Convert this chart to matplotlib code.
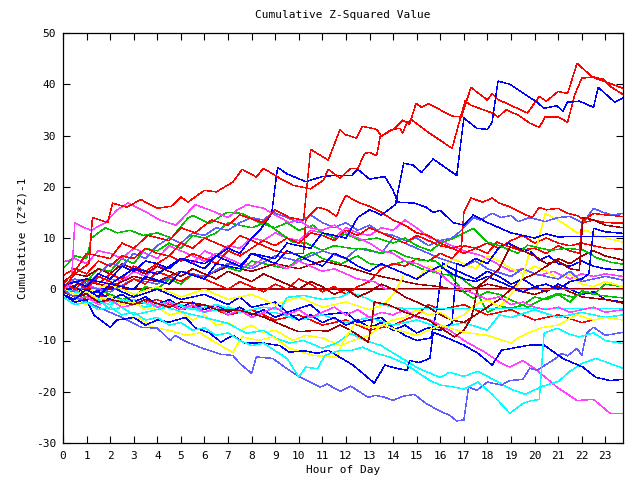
import matplotlib
matplotlib.use("Agg")
import matplotlib.pyplot as plt

# ---------------- text ----------------
title = "Cumulative Z-Squared Value"
x_label = "Hour of Day"
y_label = "Cumulative (Z*Z)-1"
x_ticks = list(range(0, 24))
y_ticks = [-30, -20, -10, 0, 10, 20, 30, 40, 50]

# ---------------- colours (gnuplot-like) ----------------
RED = "#ff0000"
GREEN = "#00c000"
BLUE = "#0000ff"
MAGENTA = "#ff40ff"
CYAN = "#00ffff"
DARKRED = "#a00000"
YELLOW = "#ffff00"
SLATE = "#5f5fff"

# ---------------- series: (hour, value) vertices ----------------
r1 = [(0, 0), (0.5, 3), (1.1, 5), (1.25, 14), (1.9, 13), (2.1, 16.8), (2.7, 16), (3.3, 17.5), (4, 15.8), (4.6, 16.2),
      (5, 18), (5.3, 17), (6, 19.3), (6.5, 19), (7.2, 20.9), (7.6, 23.4), (8.2, 21.9), (8.5, 23.6), (9.25, 21.5),
      (9.75, 20.3), (10.5, 19.6), (11.05, 21.3), (11.25, 23.4), (11.75, 21.7), (12.2, 23.6), (12.5, 23.6), (12.8, 26.5),
      (13, 26.7), (13.3, 26.1), (13.45, 29.7), (13.7, 30.4), (14.1, 31.5), (14.4, 33), (14.7, 32.2), (14.97, 36.3),
      (15.2, 35.5), (15.5, 36.2), (16.5, 33.8), (16.9, 33.6), (17.3, 39.4), (18, 36.9), (18.2, 38.2), (18.45, 37),
      (18.7, 36.5), (19.7, 34.4), (20.2, 37.6), (20.5, 36.7), (21, 38.6), (21.4, 38.2), (21.8, 44.1), (22.4, 41.6),
      (22.65, 41), (23.3, 40), (23.75, 39.2)]
r2 = [(0, 1), (0.5, 3.5), (1, 7), (2, 6), (2.5, 9), (3, 8), (3.6, 10.5), (4.5, 9.5), (5, 12), (5.6, 11), (6.3, 13.5),
      (7, 12.5), (7.5, 14.5), (8.5, 13), (9, 15.5), (9.6, 14), (10.2, 13.5), (10.5, 27.3), (11.25, 25.2), (11.75, 31.2),
      (11.95, 30.2), (12.45, 29.5), (12.7, 31.8), (13.3, 31.2), (13.5, 29.9), (13.95, 31.2), (14.3, 31.4), (14.4, 30.5),
      (14.6, 32.6), (14.8, 33), (15.2, 31.6), (15.56, 30.4), (16.5, 27.5), (17.05, 36.7), (17.3, 35.9), (18.2, 34.4),
      (18.45, 33.6), (18.8, 35), (19.3, 34), (19.8, 32.4), (20.2, 31.6), (20.45, 33.6), (21, 33.6), (21.4, 32.6),
      (21.7, 37.9), (22, 41.2), (22.5, 41.4), (22.9, 41), (23.2, 39.6), (23.75, 38)]
r3 = [(0, 2.7), (0.5, 4), (1, 3), (1.5, 5.5), (2, 4.5), (2.5, 6.5), (3, 6), (3.5, 8), (4, 7), (4.5, 6.5), (5, 9),
      (5.5, 8), (6, 10), (6.5, 9), (7, 8), (7.5, 10.5), (8, 9.5), (8.5, 8.5), (9, 7.5), (9.5, 7), (10.2, 7), (10.3, 13.6),
      (10.8, 16), (11.2, 15.5), (11.6, 14.2), (11.75, 16), (12, 18.3), (12.5, 17), (13.1, 16), (13.5, 15), (14, 13.5),
      (14.5, 12.5), (15, 11), (15.5, 10.5), (16, 9), (16.5, 8), (16.9, 8.5), (17, 15), (17.3, 17.8), (17.8, 17),
      (18.2, 17.8), (18.5, 16.8), (19, 16), (19.5, 14.8), (19.9, 14), (20.2, 16), (20.5, 15.5), (21, 15.8),
      (21.4, 14.8), (21.8, 14.4), (22.1, 13.5), (22.5, 14.8), (23, 14.5), (23.75, 14.2)]
r4 = [(0, 1), (0.5, 0), (1, 2), (1.5, 1), (2, 3), (2.5, 2), (3, 4.5), (3.5, 3.5), (4, 5), (4.5, 6.5), (5, 5.5),
      (5.5, 7), (6, 6), (6.5, 5), (7, 7.5), (7.5, 6.5), (8, 8), (8.5, 9.5), (9, 8.5), (9.5, 10), (10, 9), (10.5, 11),
      (11, 10.5), (11.5, 9.5), (12, 11.5), (12.5, 10.5), (13, 12), (13.5, 11), (14, 10), (14.5, 9), (15, 10.5),
      (15.5, 9.5), (16, 8.5), (16.5, 8), (17, 7), (17.5, 8), (18, 7), (18.4, 9.2), (18.8, 8.5), (19.4, 7.6), (20, 8),
      (20.5, 7), (21, 8.5), (21.5, 7.5), (21.9, 7), (22, 12.9), (22.5, 13.5), (23, 13), (23.75, 12.9)]
r5 = [(0, 0.5), (0.5, 1.5), (1, 0), (1.5, 2.5), (2, 1.5), (2.5, 0.5), (3, 2), (3.5, 1), (4, 3.5), (4.5, 2.5), (5, 1.5),
      (5.5, 3), (6, 2), (6.5, 1), (7, 0), (7.5, 1.5), (8, 0.5), (8.5, -0.5), (9, 1), (9.5, 0), (10, 2), (10.5, 1),
      (11, -0.5), (11.5, 0.5), (12, -1), (12.5, 0.5), (13, 1.5), (13.5, 4), (14, 5), (14.5, 4.5), (15, 6), (15.5, 5.5),
      (16, 7), (16.5, 6), (17, 8.5), (17.5, 8), (18, 9), (18.5, 8), (19, 9.5), (19.5, 10.5), (20, 9), (20.5, 10),
      (21, 9), (21.5, 8.5), (22, 9), (22.5, 8.5), (23, 8), (23.75, 7.8)]
r6 = [(0, 0), (1, -2), (2, -1), (3, -3), (4, -2), (5, -4), (6, -3), (7, -5), (8, -4), (9, -6), (10, -5), (11, -7),
      (12, -6), (13, -8), (14, -7), (15, -5), (15.5, -3), (16, -4), (17, -3), (18, -5), (19, -4), (20, -6), (21, -5),
      (22, -6.5), (23, -5.5), (23.75, -6)]

g1 = [(0, 4), (0.3, 5.5), (0.5, 6.5), (1, 6), (1.2, 10), (1.8, 12), (2.3, 11), (2.85, 11.5), (3.4, 10.5), (4, 11),
      (4.6, 10), (5.3, 13.9), (5.5, 14.4), (6.2, 12.8), (6.95, 15), (7.6, 14.8), (8.35, 12.9), (9, 12), (9.5, 13),
      (10, 11.5), (10.6, 12.5), (11, 11), (11.5, 10), (12, 10.8), (12.6, 9.5), (13.3, 10), (14, 9), (14.5, 10),
      (15, 8.5), (15.6, 7.5), (16, 9), (16.6, 10), (17.4, 11.9), (18, 9.2), (18.5, 8.5), (19.3, 7), (19.7, 8.6),
      (20.65, 7.6), (21.4, 8), (22.1, 7.6), (22.6, 6.2), (23.2, 5.3), (23.75, 4.9)]
g2 = [(0, 0.5), (0.5, 2), (1, 1.5), (1.5, 4), (2, 3.5), (2.5, 6), (3, 5), (3.5, 8), (4, 7.5), (4.5, 9), (5, 8),
      (5.5, 10.5), (6, 10), (6.5, 11), (7, 13), (7.5, 12.5), (8, 12), (8.6, 13), (9.2, 11), (9.75, 9.2), (10.3, 9),
      (11, 7.6), (11.5, 8.5), (12.2, 8), (12.9, 7.8), (13.5, 7), (14, 7.6), (14.5, 6.5), (15.1, 5.7), (15.8, 5.5),
      (16.3, 3.5), (17, -0.6), (17.4, -1.8), (18, -0.5), (18.5, -1), (19.2, -2.5), (19.7, -3.5), (20.3, -2),
      (21, -0.8), (21.6, -1.5), (22.2, -0.5), (22.8, -1.2), (23.75, -1.7)]
g3 = [(0, 1), (0.5, -0.5), (1, -1.5), (1.5, 0), (2, -1), (2.5, -2), (3, -1.5), (3.5, 0.5), (4, 0), (4.5, 2), (5, 1),
      (5.5, 3), (6, 2.5), (6.8, 4.5), (7.5, 3.5), (8, 5.5), (8.5, 5), (9.5, 4), (10, 6), (10.6, 7.2), (11, 6),
      (11.8, 5), (12.5, 6.5), (13, 5), (13.8, 4.5), (14.5, 5.5), (15.2, 4), (16, 3), (16.8, 2.5), (17.5, 0),
      (18, -4.5), (18.5, -3.3), (19, -3.7), (19.5, -3.1), (20, -1.5), (20.5, -2), (21, -1), (21.5, -2.5), (22, -0.3),
      (22.5, -1), (23, 1), (23.75, 0.5)]

bA = [(0, -1), (0.5, -2), (1, 0), (1.5, -1.5), (2, 1), (3, 0), (3.5, 2.5), (4.5, 1), (5, 3.5), (6, 2), (6.5, 5),
      (7.5, 4), (8, 7), (9, 6), (9.5, 9), (10.5, 8), (11, 11), (12, 10), (12.5, 14), (13, 15.5), (13.5, 14.5),
      (14.1, 16.5), (14.45, 24.6), (14.85, 24.2), (15.2, 22.8), (15.7, 25.4), (16.7, 22.2), (17, 33.4), (17.55, 31.4),
      (18, 31.2), (18.2, 32.6), (18.45, 40.6), (18.95, 40), (20.1, 36.5), (20.4, 35.3), (20.95, 35.8), (21.2, 34.7),
      (21.4, 36.5), (21.9, 36.7), (22.5, 35.5), (22.7, 39.4), (23.4, 36.5), (23.75, 37.3)]
bB = [(0, 0.8), (1, 2), (2, 1), (3, 4), (4, 3), (5, 6), (6, 5), (7, 8), (7.5, 7), (8, 10), (8.35, 11.5), (8.85, 14.8),
      (9.1, 23.8), (9.5, 22.5), (10.3, 21), (11, 22), (11.5, 22.2), (12.25, 22.2), (12.5, 23.4), (13, 21.5),
      (13.65, 22), (14, 19.3), (14.2, 17), (14.9, 16.8), (15.4, 16), (15.7, 15), (16, 15.4), (16.55, 13), (17, 12.5),
      (17.4, 14.5), (18, 13), (18.5, 12), (19, 11), (19.5, 10.5), (20, 10), (20.5, 10.8), (21, 10.2), (21.6, 10.3),
      (23.75, 10.3)]
bC = [(0, -1), (0.5, -2.5), (1, -2), (1.3, -5), (2, -7.4), (2.3, -6), (3, -5.5), (3.5, -7), (4, -6), (4.5, -6.4),
      (5.2, -5.5), (5.6, -7.5), (6.2, -8.5), (6.7, -10.3), (7.2, -9), (7.7, -10.5), (8.5, -10.5), (9.2, -11),
      (9.6, -12.3), (10.2, -12), (10.8, -12.5), (11.25, -11.9), (11.75, -13.3), (12.3, -14.8), (13.2, -18.3),
      (13.65, -14.8), (14.2, -15.5), (14.6, -15.8), (14.7, -13.9), (15.1, -14.3), (15.56, -13.5), (15.7, -8.4),
      (16.3, -9.5), (17, -10.9), (17.6, -12.5), (18.2, -14.8), (18.6, -11.9), (19.3, -11.3), (19.8, -10.9),
      (20.4, -10.9), (21.2, -13.5), (22.05, -15.2), (22.6, -17.2), (23.2, -17.8), (23.75, -17.6)]
bD = [(0, 0), (0.5, 1.5), (1, 0.5), (1.5, 3), (2, 2), (2.5, 4.5), (3, 3.5), (3.5, 5.5), (4, 5), (4.5, 4), (5, 6),
      (5.5, 5), (6, 4), (6.5, 6.5), (7, 5.5), (7.5, 4.5), (8, 7), (8.5, 6), (9, 5), (9.5, 7.5), (10, 6.5), (10.5, 5.5),
      (11, 4.5), (11.5, 7), (12, 6), (12.5, 4.5), (13, 3.5), (13.5, 5), (14, 4), (14.5, 3), (15, 2), (15.5, 3.5),
      (16, 4.5), (16.5, 3), (17, 2), (17.5, 1.5), (18, 2.5), (18.5, 1.5), (19, 0.5), (19.5, -0.5), (20, 0.5),
      (20.5, 1), (21, 0), (21.5, 1.5), (22, 2), (22.3, 3), (22.5, 11.9), (23, 11.2), (23.3, 11.1), (23.75, 10.9)]
bE = [(0, -0.5), (0.5, 0.5), (1, -1), (1.5, -0.5), (2, -2), (2.5, -1), (3, -2.5), (3.5, -1.5), (4, -3), (4.5, -2),
      (5, -3.5), (5.5, -2.5), (6, -4), (6.5, -3), (7, -4.5), (7.5, -3.5), (8, -5), (8.5, -4), (9, -5.5), (9.5, -4.5),
      (10, -6), (10.5, -5), (11, -6.5), (11.5, -5.5), (12, -7), (12.5, -6), (13, -7.5), (13.5, -6.5), (14, -8),
      (14.5, -7), (15, -8.5), (15.5, -7.5), (16, -8), (16.5, -6.6), (16.7, 5), (17, 4.5), (17.5, 6), (18, 5),
      (18.5, 8.2), (18.9, 9), (19.3, 8), (19.8, 7.5), (20.2, 5.7), (20.6, 6.5), (21, 5), (21.5, 4.5), (22, 5.5),
      (22.5, 4.5), (23, 4), (23.75, 3.7)]
bF = [(0, 0.5), (1, -1), (2, 0.5), (3, -1.5), (4, 0), (5, -2), (6, -1), (7, -3), (7.5, -1.5), (8, -3.5), (9, -2.5),
      (9.5, -4.5), (10.5, -3), (11, -5), (12, -4.5), (12.5, -6.5), (13.5, -5.5), (14, -7.5), (14.5, -9), (15, -10),
      (15.6, -9.5), (15.85, -4.1), (16.1, 5.1), (16.5, 4), (17, 3), (17.5, 2), (18, 3.5), (18.5, 2.5), (19, 1),
      (19.5, 2), (20, 0.5), (20.5, -0.5), (21, 1), (21.5, 0), (22, -1), (22.5, -0.5), (23, -2), (23.75, -2.5)]

m1 = [(0, 0), (0.35, 1), (0.5, 13), (0.9, 12), (1.2, 11.5), (1.8, 13), (2.3, 15.5), (2.75, 16.8), (3.55, 15),
      (4.1, 13.5), (4.8, 12.5), (5.3, 15), (5.6, 16.5), (6.2, 15.5), (7, 14), (7.4, 15.5), (7.8, 16.5), (8.5, 15.8),
      (9, 14.5), (9.6, 13), (10, 13.5), (10.5, 12), (11, 11.5), (11.5, 12.5), (12, 11), (12.5, 10), (13, 9),
      (13.5, 7.5), (14, 7), (14.5, 5.5), (15, 5), (15.5, 4), (16, 3), (16.5, 1), (17, 0), (17.5, -1), (18, -2),
      (18.5, -1.5), (19, -3), (19.5, -2.5), (20, -3.5), (20.5, -4), (21, -3.5), (21.5, -4.5), (22, -4), (22.5, -3.5),
      (23, -4.5), (23.75, -4)]
m2 = [(0, -1), (0.5, -2), (1, -1.5), (1.5, -3), (2, -2), (2.5, -3.5), (3, -3), (3.5, -2), (4, -3.5), (4.5, -2.5),
      (5, -4), (5.5, -3), (6, -4.5), (6.5, -3.5), (7, -5), (7.5, -4), (8, -5.5), (8.5, -4.5), (9, -3.5), (9.5, -5),
      (10, -4), (10.5, -5.5), (11, -4.5), (11.5, -3.5), (12, -5), (12.5, -4), (13, -5.5), (13.5, -4.5), (14, -5),
      (14.5, -4), (15, -5.5), (15.56, -6), (16.4, -8), (17, -10), (17.9, -12.3), (18.5, -14.2), (18.95, -15.2),
      (19.5, -13.9), (20.1, -15.8), (20.95, -19.1), (21.8, -21.7), (22.5, -21.5), (23.2, -24.2), (23.75, -24.2)]
m3 = [(0, 5.3), (0.5, 6), (1, 5), (1.5, 7.5), (2, 7), (2.5, 6), (3, 8), (3.5, 7), (4, 6), (4.5, 8.5), (5, 7.5),
      (5.5, 6.5), (6, 5.5), (6.5, 7), (7, 6), (7.5, 5), (8, 4.5), (8.5, 6), (9, 5), (9.5, 4), (10, 5.5), (10.5, 4.5),
      (11, 3.5), (11.5, 4), (12, 3), (12.5, 2), (13.2, 1.5), (13.7, 0), (23.75, 0)]
m4 = [(0, 0), (0.5, -1), (1, 1), (1.5, 0), (2, 2), (2.5, 1.5), (3, 3.5), (3.5, 2.5), (4, 4.5), (4.5, 4), (5, 6),
      (5.5, 5), (6, 7.5), (6.5, 6.5), (7, 8.5), (7.5, 8), (8, 10), (8.5, 9.5), (9, 11), (9.5, 10), (10, 9.5),
      (10.5, 11.5), (11, 11), (11.5, 10), (12, 12), (12.5, 11), (13, 10.5), (13.5, 12), (14, 11.5), (14.5, 13.5),
      (15, 12), (15.56, 10), (16, 9.5), (16.5, 8.5), (17, 7.5), (17.7, 6.6), (18.2, 5.5), (19, 3.5), (19.5, 4),
      (20.2, 2.7), (20.8, 3.5), (21.5, 2), (22, 3), (22.5, 2.5), (23, 3), (23.75, 2.5)]

cA = [(0, -1.5), (0.5, -3), (1, -2.5), (1.5, -4), (2, -3.5), (2.5, -5), (3, -4.5), (3.5, -6), (4, -5.5), (4.5, -7),
      (5, -6.5), (5.5, -8), (6, -7.5), (6.5, -9), (7, -8.5), (7.5, -10), (8, -11), (8.5, -10.5), (9, -12),
      (9.5, -13.5), (10, -17.1), (10.3, -15.2), (10.8, -15.5), (11.1, -12.9), (11.75, -11.9), (12.2, -12),
      (12.7, -11.3), (13.3, -12.5), (13.9, -13.3), (14.5, -14.5), (15.1, -16.4), (15.56, -17.8), (16, -18.7),
      (16.5, -19), (17, -19.5), (17.6, -18.1), (18.2, -20.5), (18.95, -24.2), (19.5, -22.3), (19.8, -21.8),
      (20.2, -21.5), (20.4, -8.6), (20.95, -7.6), (21.5, -8.8), (21.9, -9.3), (22.5, -8.5), (23, -10), (23.75, -10.6)]
cB = [(0, -0.5), (0.5, -1.5), (1, -3), (1.5, -2), (2, -4), (2.5, -3.5), (3, -5), (3.5, -4.5), (4.4, -3.5),
      (5.25, -4.7), (6, -5.5), (6.95, -6.6), (7.8, -8.6), (8.5, -8), (9, -9.5), (9.6, -10.5), (10.2, -10), (11, -11.5),
      (11.6, -10.5), (12.2, -8.6), (12.8, -10), (13.5, -11), (14.2, -13), (15.1, -15.5), (16, -17.2), (16.4, -16.2),
      (17, -17), (17.6, -16), (18.2, -17.5), (19, -19.5), (19.6, -20.5), (20.3, -19), (21, -18), (21.5, -16),
      (22, -14.5), (22.6, -13.5), (23.2, -14.5), (23.75, -15.4)]
cC = [(0, 0), (1, -1), (2, -2.5), (3, -2), (4, -3.5), (5, -3), (6, -4.5), (7, -3.5), (8, -5), (9, -4.5), (10, -6),
      (11, -5), (12, -6.5), (13, -5.5), (14, -7), (15, -6), (16, -7.5), (17, -6.5), (18, -8), (18.5, -5), (19, -5.5),
      (20, -4), (21, -5.5), (22, -4.5), (23, -5.5), (23.75, -5)]
cD = [(0, -1), (0.5, -2), (1, -1.5), (2, -3), (2.5, -2), (3.5, -3.5), (4.5, -2.5), (5.5, -4), (6.5, -3), (7.5, -4.5),
      (8.5, -3.5), (9.2, -4), (9.5, -1.6), (10.2, -1.2), (11, -2), (11.8, -1.5), (12.2, -0.6), (12.9, -1.8),
      (13.3, -2.7), (14, -3.5), (14.4, -3.7), (23.75, -3.7)]

d1 = [(0, 0), (23.75, 0)]
d2 = [(0, -0.5), (0.5, -1.5), (1, -1), (1.5, -2.5), (2, -2), (3, -3), (3.5, -2), (4.5, -3.5), (5, -2.5), (6, -3),
      (6.5, -4), (7.5, -4.1), (8.5, -5.4), (9.3, -7), (10, -8.3), (10.8, -8), (11.2, -8.2), (11.75, -7), (12.3, -8.3),
      (12.95, -10.3), (13.1, -6.4), (13.2, -2.5), (13.8, -3), (14.5, -4.5), (15.5, -6), (16.6, -9.3), (17, -8),
      (17.3, -5.7), (17.4, -4.1), (17.6, 0.5), (18, 2), (18.5, 4), (19, 8.6), (19.5, 7.5), (20, 6.5), (20.5, 5),
      (21, 5.5), (21.5, 4), (21.9, 3.7), (22.05, 14), (22.5, 13.5), (23, 12.5), (23.75, 12)]
d3 = [(0, 1.5), (0.5, 3), (1, 2.5), (1.5, 4), (2, 3), (2.5, 5), (3, 4), (3.5, 3), (4, 4.5), (4.5, 3.5), (5, 2.5),
      (5.5, 4), (6, 3), (6.5, 2), (7, 3.5), (7.5, 2.5), (8, 1.5), (8.5, 3), (9, 2), (9.5, 1), (10, 0), (10.5, 1.5),
      (11, 0.5), (11.5, -1), (12, 0), (12.5, -1.5), (13, -0.5), (13.5, 1), (14, 0), (14.5, -1.5), (15, -2.5),
      (15.5, -3.5), (16, -5), (16.5, -6), (17, -6.5), (17.5, -5), (18, -3.5), (18.5, -2), (19, 0), (19.5, 2),
      (20, 3), (20.5, 4.5), (21, 6), (21.5, 5), (22, 6.5), (22.5, 7.5), (23, 6.5), (23.75, 5.7)]
d4 = [(0, 0), (1, 1.5), (2, 0.5), (3, 2.5), (4, 1.5), (5, 3.5), (6, 2.5), (7, 4.5), (8, 3.5), (9, 5), (10, 4),
      (11, 5.5), (12, 4.5), (13, 3), (14, 2), (15, 1), (16, 0.5), (17, -0.5), (18, 1), (19, 0), (20, -1), (21, 0.5),
      (22, -1.5), (23, -2), (23.75, -2.7)]

y1 = [(0, -1), (0.5, -2), (1, -3), (1.5, -3.5), (2, -4.5), (2.7, -6), (3.2, -5.5), (3.8, -7.5), (4.5, -8),
      (5.25, -9), (5.8, -8.5), (6.5, -10.5), (7.2, -12.3), (7.6, -9.3), (8.3, -10), (8.9, -9.3), (9.6, -11.5),
      (10.6, -12.9), (11.6, -13.3), (11.8, -11), (12, -9.3), (12.4, -6.6), (13, -7.5), (13.6, -7), (14.2, -8),
      (15, -9), (15.5, -8), (16, -7), (17, -8.4), (18, -9), (19, -10.5), (19.3, -9.5), (19.8, -8.4), (20.3, -7.5),
      (21, -7), (21.5, -5.7), (21.8, -5), (22.5, -6), (23, -5.5), (23.75, -6)]
y2 = [(0, 0), (0.5, -1), (1, -0.5), (1.5, -2), (2, -1.5), (2.5, -3), (3, -2.5), (3.5, -4), (4, -3.5), (4.5, -5),
      (5, -4.5), (5.5, -6), (6, -5), (6.5, -7), (7, -6.5), (7.5, -8), (8, -7), (8.5, -8.5), (9, -8), (9.75, -10),
      (10.3, -9), (11, -9.5), (11.75, -11), (12.3, -10), (13, -9), (13.5, -7), (14, -6), (14.5, -5.5), (15, -4),
      (15.5, -5), (16, -4.5), (16.5, -6), (17, -5), (17.5, -3), (18, -2), (18.5, -3.5), (19, -1), (19.5, 2.3),
      (19.8, 7.6), (20.1, 8.5), (20.45, 14.8), (21, 13.5), (21.5, 12), (21.8, 11), (22.2, 11.5), (22.6, 10.5),
      (23.2, 9.8), (23.75, 9.2)]
y3 = [(0, 0.5), (1, -0.5), (2, 1), (3, -1), (4, 0.5), (5, -1.5), (6, 0), (7, -2), (8, -1), (9, -3), (10, -1.5),
      (11, -3.5), (12, -2.5), (13, -4), (13.6, -3), (14, -1), (14.5, 3), (15, 2), (15.5, 4.5), (16, 3.5), (16.5, 6),
      (17, 5), (17.5, 4), (18, 6.5), (18.5, 5.5), (19, 4), (19.5, 3), (20, 4.5), (20.5, 3.5), (21, 2), (21.5, 3),
      (22, 1), (22.5, 0.5), (23, 1.5), (23.75, 0.5)]

s1 = [(0, 0), (0.3, -1), (1, -2.5), (1.5, -3.5), (2, -4.5), (2.5, -5.5), (3.3, -7.4), (4, -7.6), (4.55, -10),
      (4.75, -9), (5.25, -10.3), (5.9, -11.5), (6.7, -12.7), (7.2, -12.9), (7.5, -14.5), (8, -16.4), (8.2, -13.2),
      (8.9, -13.5), (9.4, -15.2), (10, -17), (10.9, -19.1), (11.2, -18.5), (11.75, -19.9), (12.2, -18.9),
      (12.95, -21.1), (13.25, -20.7), (13.65, -21.1), (14, -21.7), (14.4, -20.9), (14.9, -20.5), (15.4, -22.3),
      (16, -23.8), (16.4, -24.6), (16.7, -25.7), (17, -25.5), (17.2, -19.1), (17.55, -19.7), (18, -18.1),
      (18.6, -18.7), (18.95, -17.8), (19.5, -17.6), (19.8, -15.4), (20.1, -15.8), (20.9, -13.5), (21.15, -12.5),
      (21.4, -13), (21.8, -11.5), (22, -12.9), (22.2, -8.6), (22.5, -7.4), (23, -9), (23.75, -8.4)]
s2 = [(0, 0.5), (0.5, 2), (1, 1), (1.5, 3), (2, 5), (2.5, 4.5), (3, 7), (3.5, 6), (4, 8.5), (4.5, 10), (5, 9),
      (5.5, 11), (6, 10.5), (6.5, 12), (7, 11.5), (7.5, 13), (8, 14), (8.5, 13.5), (8.9, 15), (9.5, 14), (10, 13),
      (10.5, 14.5), (11, 13), (11.5, 12), (12, 13), (12.5, 11.5), (13, 12.5), (13.5, 11), (14, 10.5), (14.5, 9.5),
      (15, 10), (15.5, 8.5), (16, 9.5), (16.5, 10), (16.9, 11.5), (17.4, 14), (17.7, 13.5), (18.2, 14.8), (18.6, 14),
      (19, 14.4), (19.3, 13.2), (19.8, 14), (20.45, 13.2), (21, 14), (21.5, 14.2), (22.05, 12.9), (22.5, 15.8),
      (22.9, 15), (23.3, 14.5), (23.75, 14.8)]
s3 = [(0, -1), (1, 0.5), (2, -0.5), (3, 2), (4, 1), (5, 3.5), (6, 2.5), (7, 5), (8, 4), (9, 6.5), (10, 5.5),
      (11, 7.5), (12, 6), (12.5, 8), (13.5, 7), (14, 10), (14.5, 9), (15, 8), (16, 6), (17, 4.5), (17.5, 5.5),
      (18, 4), (19, 2.5), (19.5, 4), (20, 3), (21, 2), (21.5, 3.5), (22, 1.5), (23, 2.5), (23.75, 1.8)]

plot_order = [
    (d1, DARKRED), (r6, RED), (g3, GREEN), (bF, BLUE), (m4, MAGENTA), (cC, CYAN), (d4, DARKRED), (y3, YELLOW),
    (s3, SLATE), (r5, RED), (g2, GREEN), (bE, BLUE), (m3, MAGENTA), (cD, CYAN), (d3, DARKRED), (y2, YELLOW),
    (s2, SLATE), (r4, RED), (g1, GREEN), (bD, BLUE), (m2, MAGENTA), (cB, CYAN), (d2, DARKRED), (y1, YELLOW),
    (s1, SLATE), (r3, RED), (bC, BLUE), (m1, MAGENTA), (cA, CYAN), (bB, BLUE), (r2, RED), (r1, RED), (bA, BLUE),
]

# ---------------- drawing ----------------
mono = "DejaVu Sans Mono"
fig = plt.figure(figsize=(6.4, 4.8), dpi=100)
ax = fig.add_axes([63 / 640, 37 / 480, 560 / 640, 410 / 480])

for pts, col in plot_order:
    hrs = [p[0] for p in pts]
    vals = [p[1] for p in pts]
    ax.plot(hrs, vals, color=col, lw=0.3, antialiased=False)

ax.set_xlim(0, 23.75)
ax.set_ylim(-30, 50)
ax.set_xticks(x_ticks)
ax.set_yticks(y_ticks)
ax.set_xticklabels([str(t) for t in x_ticks], fontfamily=mono, fontsize=8)
ax.set_yticklabels([str(t) for t in y_ticks], fontfamily=mono, fontsize=8)
ax.tick_params(direction="in", length=5, width=0.8, top=True, right=True, color="black")
ax.tick_params(axis="x", pad=6)
ax.tick_params(axis="y", pad=5)
for sp in ax.spines.values():
    sp.set_linewidth(0.9)
    sp.set_color("black")

fig.text(343 / 640, 1 - 15 / 480, title, ha="center", va="center", fontfamily=mono, fontsize=8)
fig.text(343 / 640, 1 - 470 / 480, x_label, ha="center", va="center", fontfamily=mono, fontsize=8)
fig.text(23 / 640, 1 - 238 / 480, y_label, ha="center", va="center", rotation=90, fontfamily=mono, fontsize=8)

fig.savefig("out.png", dpi=100)
